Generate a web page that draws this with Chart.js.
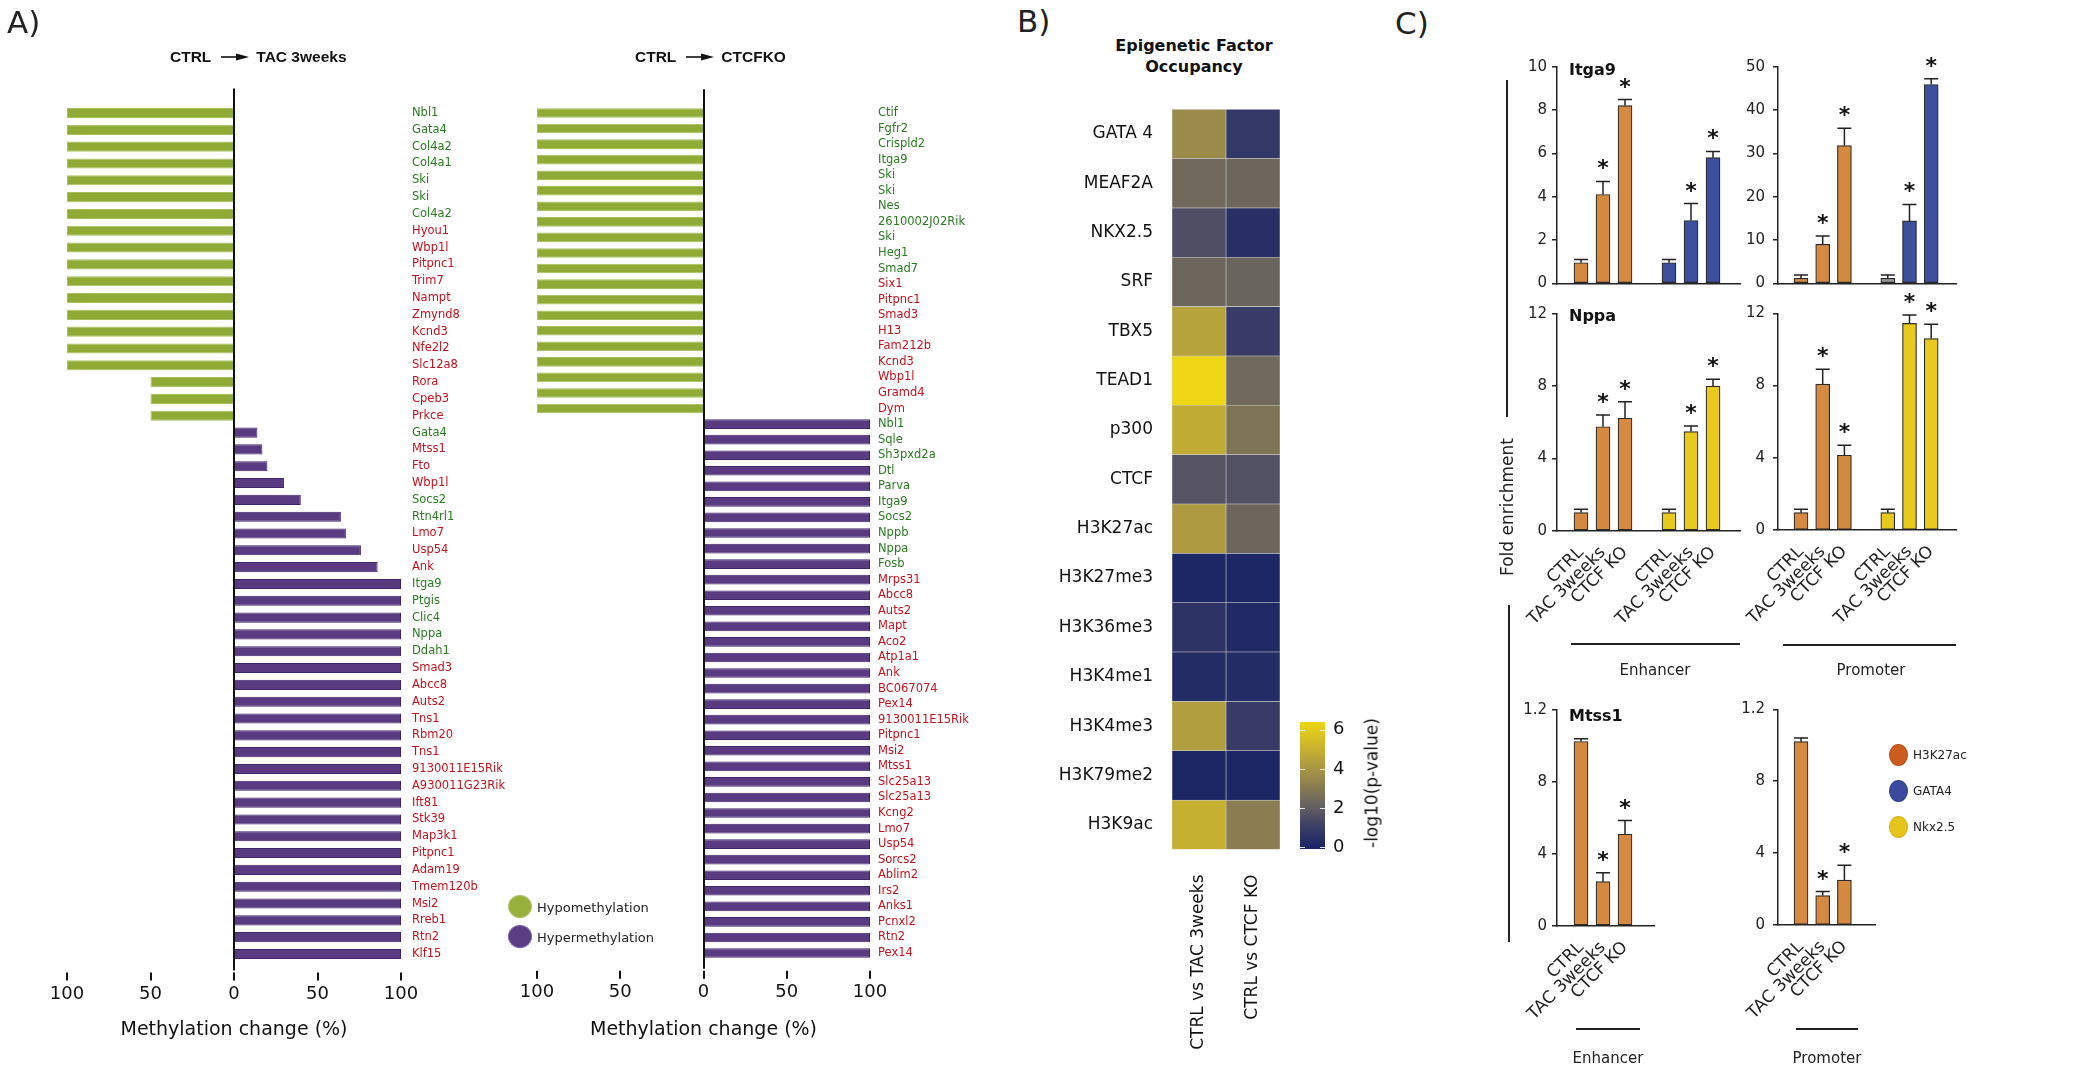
<!DOCTYPE html>
<html>
<head>
<meta charset="utf-8">
<title>Methylation change and epigenetic occupancy</title>
<script src="https://cdn.jsdelivr.net/npm/chart.js"></script>
<style>
  html, body { margin: 0; padding: 0; background: #fff; }
  body { position: relative; width: 2098px; height: 1070px; overflow: hidden; font-family: 'DejaVu Sans', Verdana, sans-serif; color: #222; }
  canvas { position: absolute; }
  .lbl { position: absolute; white-space: nowrap; line-height: 1; }
  .rule { position: absolute; background: #222; }
  .dot { position: absolute; border-radius: 50%; box-sizing: border-box; }
  .ttl { position: absolute; display: flex; align-items: center; font: bold 15.5px 'Liberation Sans', Arial, sans-serif; color: #111; white-space: nowrap; }
</style>
</head>
<body>
<script>
// ---------- A) methylation change, CTRL -> TAC 3weeks ----------
const tacGenes = ['Nbl1', 'Gata4', 'Col4a2', 'Col4a1', 'Ski', 'Ski', 'Col4a2', 'Hyou1', 'Wbp1l', 'Pitpnc1',
  'Trim7', 'Nampt', 'Zmynd8', 'Kcnd3', 'Nfe2l2', 'Slc12a8', 'Rora', 'Cpeb3', 'Prkce',
  'Gata4', 'Mtss1', 'Fto', 'Wbp1l', 'Socs2', 'Rtn4rl1', 'Lmo7', 'Usp54', 'Ank',
  'Itga9', 'Ptgis', 'Clic4', 'Nppa', 'Ddah1', 'Smad3', 'Abcc8', 'Auts2', 'Tns1', 'Rbm20', 'Tns1',
  '9130011E15Rik', 'A930011G23Rik', 'Ift81', 'Stk39', 'Map3k1', 'Pitpnc1', 'Adam19', 'Tmem120b',
  'Msi2', 'Rreb1', 'Rtn2', 'Klf15'];
const tacChange = [-100, -100, -100, -100, -100, -100, -100, -100, -100, -100,
  -100, -100, -100, -100, -100, -100, -50, -50, -50,
  14, 17, 20, 30, 40, 64, 67, 76, 86,
  100, 100, 100, 100, 100, 100, 100, 100, 100, 100, 100,
  100, 100, 100, 100, 100, 100, 100, 100,
  100, 100, 100, 100];
// g = green label, r = red label
const tacLabelGroup = ('ggggggg' + 'rrrrrrrrrrrr' + 'grrrggrrr' + 'ggggg' + 'rrrrrrrrrrrrrrrrrr').split('');

// ---------- A) methylation change, CTRL -> CTCFKO ----------
const ctcfGenes = ['Ctif', 'Fgfr2', 'Crispld2', 'Itga9', 'Ski', 'Ski', 'Nes', '2610002J02Rik', 'Ski', 'Heg1', 'Smad7',
  'Six1', 'Pitpnc1', 'Smad3', 'H13', 'Fam212b', 'Kcnd3', 'Wbp1l', 'Gramd4', 'Dym',
  'Nbl1', 'Sqle', 'Sh3pxd2a', 'Dtl', 'Parva', 'Itga9', 'Socs2', 'Nppb', 'Nppa', 'Fosb',
  'Mrps31', 'Abcc8', 'Auts2', 'Mapt', 'Aco2', 'Atp1a1', 'Ank', 'BC067074', 'Pex14', '9130011E15Rik',
  'Pitpnc1', 'Msi2', 'Mtss1', 'Slc25a13', 'Slc25a13', 'Kcng2', 'Lmo7', 'Usp54', 'Sorcs2', 'Ablim2',
  'Irs2', 'Anks1', 'Pcnxl2', 'Rtn2', 'Pex14'];
const ctcfChange = [-100, -100, -100, -100, -100, -100, -100, -100, -100, -100, -100,
  -100, -100, -100, -100, -100, -100, -100, -100, -100,
  100, 100, 100, 100, 100, 100, 100, 100, 100, 100,
  100, 100, 100, 100, 100, 100, 100, 100, 100, 100,
  100, 100, 100, 100, 100, 100, 100, 100, 100, 100,
  100, 100, 100, 100, 100];
const ctcfLabelGroup = ('ggggggggggg' + 'rrrrrrrrr' + 'gggggggggg' + 'rrrrrrrrrrrrrrrrrrrrrrrrr').split('');
const methylTicks = [-100, -50, 0, 50, 100];

// ---------- B) epigenetic factor occupancy, -log10(p-value) ----------
const factors = ['GATA 4', 'MEAF2A', 'NKX2.5', 'SRF', 'TBX5', 'TEAD1', 'p300', 'CTCF', 'H3K27ac',
  'H3K27me3', 'H3K36me3', 'H3K4me1', 'H3K4me3', 'H3K79me2', 'H3K9ac'];
const comparisons = ['CTRL vs TAC 3weeks', 'CTRL vs CTCF KO'];
const occTac = [3.6, 2.4, 1.5, 2.3, 4.5, 6.4, 4.8, 1.7, 4.2, 0.1, 0.6, 0.3, 4.3, 0.05, 5.0];
const occCtcf = [0.8, 2.3, 0.4, 2.2, 0.95, 2.4, 2.8, 1.6, 2.3, 0.1, 0.2, 0.3, 0.9, 0.05, 3.1];
const colorbarTicks = [0, 2, 4, 6];

// ---------- C) fold enrichment ----------
const conditions = ['CTRL', 'TAC 3weeks', 'CTCF KO'];
const significant = [false, true, true];
const marks = ['H3K27ac', 'GATA4', 'Nkx2.5'];

const itga9EnhTicks = [0, 2, 4, 6, 8, 10];
const itga9EnhH3k27ac = [0.95, 4.1, 8.2];
const itga9EnhH3k27acSem = [0.15, 0.6, 0.28];
const itga9EnhGata4 = [0.95, 2.9, 5.8];
const itga9EnhGata4Sem = [0.15, 0.78, 0.29];
const itga9PromTicks = [0, 10, 20, 30, 40, 50];
const itga9PromH3k27ac = [1.15, 9.0, 31.8];
const itga9PromH3k27acSem = [0.77, 1.9, 4.0];
const itga9PromGata4 = [1.15, 14.4, 45.9];
const itga9PromGata4Sem = [0.77, 3.8, 1.3];

const nppaTicks = [0, 4, 8, 12];
const nppaEnhH3k27ac = [1.0, 5.75, 6.22];
const nppaEnhH3k27acSem = [0.18, 0.65, 0.91];
const nppaEnhNkx25 = [1.0, 5.48, 8.0];
const nppaEnhNkx25Sem = [0.18, 0.31, 0.37];
const nppaPromH3k27ac = [0.96, 8.08, 4.14];
const nppaPromH3k27acSem = [0.19, 0.82, 0.56];
const nppaPromNkx25 = [0.96, 11.44, 10.6];
const nppaPromNkx25Sem = [0.19, 0.46, 0.8];

const mtss1Ticks = [0, 0.4, 0.8, 1.2];
const mtss1TickLabels = ['0', '4', '8', '1.2'];
const mtss1EnhH3k27ac = [1.025, 0.245, 0.509];
const mtss1EnhH3k27acSem = [0.015, 0.05, 0.076];
const mtss1PromH3k27ac = [1.02, 0.164, 0.25];
const mtss1PromH3k27acSem = [0.02, 0.022, 0.083];

// ---------- styles ----------
const GREEN_TXT = '#2a7b22', RED_TXT = '#c0121d';
const HYPO = '#8fab35', HYPO_EDGE = '#a8c05a';
const HYPER = '#5a3b81', HYPER_EDGE = '#3e2468';
const ORANGE = '#d48a40', BLUE = '#3e4f9e', YELLOW = '#e8c91d', GREY = '#9a9a9a';
const heatStops = [[0, [27, 37, 101]], [1, [58, 61, 102]], [2, [99, 94, 98]], [3, [133, 122, 82]],
  [4, [168, 150, 69]], [5, [198, 176, 48]], [6.4, [238, 214, 20]]];

Chart.defaults.font.family = "'DejaVu Sans', Verdana, sans-serif";
Chart.defaults.color = '#222';
Chart.defaults.animation = false;
Chart.defaults.responsive = false;
Chart.defaults.devicePixelRatio = 1;
Chart.defaults.plugins.legend.display = false;
Chart.defaults.plugins.tooltip.enabled = false;

function heatColor(v) {
  for (let i = 1; i < heatStops.length; i++) {
    const [v1, c1] = heatStops[i];
    const [v0, c0] = heatStops[i - 1];
    if (v <= v1 || i === heatStops.length - 1) {
      const t = Math.max(0, Math.min(1, (v - v0) / (v1 - v0)));
      const c = c0.map((a, k) => Math.round(a + (c1[k] - a) * t));
      return `rgb(${c[0]},${c[1]},${c[2]})`;
    }
  }
}

function makeCanvas(box) {
  const c = document.createElement('canvas');
  c.width = box.w;
  c.height = box.h;
  c.style.left = box.x + 'px';
  c.style.top = box.y + 'px';
  c.style.width = box.w + 'px';
  c.style.height = box.h + 'px';
  document.body.appendChild(c);
  return c;
}

// layout padding that puts the plot area on `area` (page coordinates)
function padFor(box, area, yW, xH, yPos) {
  return {
    left: area.l - box.x - (yPos === 'left' ? yW : 0),
    right: box.x + box.w - area.r - (yPos === 'right' ? yW : 0),
    top: area.t - box.y,
    bottom: box.y + box.h - area.b - xH
  };
}
const fixW = w => s => { s.width = w; };
const fixH = h => s => { s.height = h; };

function text(str, x, y, o = {}) {
  const d = document.createElement('div');
  d.className = 'lbl';
  d.textContent = str;
  const ax = { left: '0', center: '-50%', right: '-100%' }[o.align || 'left'];
  d.style.left = x + 'px';
  d.style.top = y + 'px';
  d.style.fontSize = (o.size || 15) + 'px';
  d.style.fontWeight = o.bold ? 'bold' : 'normal';
  d.style.color = o.color || '#222';
  d.style.transform = `translate(${ax},-50%)` + (o.rotate ? ` rotate(${o.rotate}deg)` : '');
  document.body.appendChild(d);
}
function rule(x1, y1, x2, y2, w = 1.5) {
  const d = document.createElement('div');
  d.className = 'rule';
  if (y1 === y2) {
    d.style.cssText += `left:${x1}px;top:${y1 - w / 2}px;width:${x2 - x1}px;height:${w}px`;
  } else {
    d.style.cssText += `left:${x1 - w / 2}px;top:${y1}px;width:${w}px;height:${y2 - y1}px`;
  }
  document.body.appendChild(d);
}
function dot(cx, cy, w, h, fill, edge) {
  const d = document.createElement('div');
  d.className = 'dot';
  d.style.cssText += `left:${cx - w / 2}px;top:${cy - h / 2}px;width:${w}px;height:${h}px;background:${fill};border:1.5px solid ${edge}`;
  document.body.appendChild(d);
}
function arrowTitle(x, y, left, right) {
  const d = document.createElement('div');
  d.className = 'ttl';
  d.style.left = x + 'px';
  d.style.top = (y - 9) + 'px';
  d.style.height = '18px';
  d.innerHTML = `<span>${left}</span><svg width="28" height="10" style="margin:0 7px 0 10px">` +
    `<line x1="0" y1="5" x2="19" y2="5" stroke="#111" stroke-width="1.6"/>` +
    `<polygon points="15,1.5 28,5 15,8.5" fill="#111"/></svg><span>${right}</span>`;
  document.body.appendChild(d);
}

// ---------- plugins ----------
const zeroAxis = {
  id: 'zeroAxis',
  afterDraw(chart) {
    const { ctx, chartArea: a, scales: { x } } = chart;
    const x0 = Math.round(x.getPixelForValue(0));
    ctx.save();
    ctx.strokeStyle = '#111';
    ctx.lineWidth = 2;
    ctx.beginPath();
    ctx.moveTo(x0, a.top - 16);
    ctx.lineTo(x0, a.bottom + 8);
    x.ticks.forEach(t => {
      const px = Math.round(x.getPixelForValue(t.value));
      ctx.moveTo(px, a.bottom + 10);
      ctx.lineTo(px, a.bottom + 18);
    });
    ctx.stroke();
    ctx.restore();
  }
};

const errorBars = {
  id: 'errorBars',
  afterDatasetsDraw(chart) {
    const { ctx, scales: { y } } = chart;
    ctx.save();
    ctx.strokeStyle = '#222';
    ctx.fillStyle = '#111';
    ctx.lineWidth = 1.5;
    ctx.font = "bold 22px 'DejaVu Sans'";
    ctx.textAlign = 'center';
    const m = ctx.measureText('*');
    const mid = (m.actualBoundingBoxAscent - m.actualBoundingBoxDescent) / 2;
    chart.data.datasets.forEach((ds, di) => {
      chart.getDatasetMeta(di).data.forEach((bar, i) => {
        const top = y.getPixelForValue(ds.data[i].y + ds.sem[i]);
        const half = bar.width / 2;
        ctx.beginPath();
        ctx.moveTo(bar.x, bar.y);
        ctx.lineTo(bar.x, top);
        ctx.moveTo(bar.x - half, top);
        ctx.lineTo(bar.x + half, top);
        ctx.stroke();
        if (significant[i]) ctx.fillText('*', bar.x, top - 17 + mid);
      });
    });
    ctx.restore();
  }
};

const colorbarDashes = {
  id: 'colorbarDashes',
  afterDatasetsDraw(chart) {
    const { ctx, chartArea: a, scales: { y } } = chart;
    ctx.save();
    ctx.strokeStyle = 'rgba(255,255,255,0.85)';
    ctx.lineWidth = 1;
    ctx.beginPath();
    colorbarTicks.forEach(v => {
      const py = Math.round(y.getPixelForValue(v)) + 0.5;
      ctx.moveTo(a.left, py); ctx.lineTo(a.left + 5, py);
      ctx.moveTo(a.right - 5, py); ctx.lineTo(a.right, py);
    });
    ctx.stroke();
    ctx.restore();
  }
};

// ---------- A) ----------
function methylationChart(box, area, genes, change, groups, labelPad, barFrac) {
  const yW = box.x + box.w - area.r;
  const xH = 1041.4 - area.b;
  new Chart(makeCanvas(box), {
    type: 'bar',
    data: {
      labels: genes,
      datasets: [{
        data: change,
        backgroundColor: change.map(v => v < 0 ? HYPO : HYPER),
        borderColor: change.map(v => v < 0 ? HYPO_EDGE : HYPER_EDGE),
        borderWidth: 1,
        barPercentage: barFrac,
        categoryPercentage: 1
      }]
    },
    options: {
      indexAxis: 'y',
      layout: { padding: padFor(box, area, yW, xH, 'right') },
      scales: {
        x: {
          min: methylTicks[0], max: methylTicks[methylTicks.length - 1],
          afterBuildTicks: s => { s.ticks = methylTicks.map(v => ({ value: v })); },
          ticks: { callback: v => Math.abs(v), font: { size: 18 }, color: '#111', padding: 21 },
          grid: { display: false, drawTicks: false },
          border: { display: false },
          title: { display: true, text: 'Methylation change (%)', font: { size: 19 }, color: '#111', padding: 0 },
          afterFit: fixH(xH)
        },
        y: {
          position: 'right',
          grid: { display: false, drawTicks: false },
          border: { display: false },
          ticks: {
            autoSkip: false, padding: labelPad, font: { size: 11.5 },
            color: c => groups[c.index] === 'g' ? GREEN_TXT : RED_TXT
          },
          afterFit: fixW(yW)
        }
      }
    },
    plugins: [zeroAxis]
  });
}

methylationChart({ x: 0, y: 0, w: 520, h: 1070 }, { l: 67, r: 401, t: 104.6, b: 962.4 },
  tacGenes, tacChange, tacLabelGroup, 11, 0.6);
methylationChart({ x: 470, y: 0, w: 530, h: 1070 }, { l: 537, r: 870, t: 105.2, b: 960.8 },
  ctcfGenes, ctcfChange, ctcfLabelGroup, 8, 0.62);

text('A)', 7, 21.5, { size: 31 });
arrowTitle(170, 57, 'CTRL', 'TAC 3weeks');
arrowTitle(635, 57, 'CTRL', 'CTCFKO');
dot(520, 906.5, 24, 23, '#98b03c', '#b4c76e');
dot(520, 936.5, 24, 23, '#5b3d84', '#7a63a3');
text('Hypomethylation', 537, 907, { size: 13 });
text('Hypermethylation', 537, 937, { size: 13 });

// ---------- B) ----------
(function () {
  const box = { x: 1000, y: 80, w: 320, h: 990 };
  const area = { l: 1172, r: 1280, t: 107, b: 849.5 };
  const yW = 150, xH = 216;
  new Chart(makeCanvas(box), {
    type: 'bar',
    data: {
      labels: factors,
      // one stacked cell per comparison; the cell colour carries the value
      datasets: [occTac, occCtcf].map(vals => ({
        data: vals.map(() => 1),
        backgroundColor: vals.map(heatColor),
        borderColor: 'rgba(205,205,205,0.9)',
        borderWidth: 0.6,
        borderSkipped: false,
        barPercentage: 1,
        categoryPercentage: 1
      }))
    },
    options: {
      indexAxis: 'y',
      layout: { padding: padFor(box, area, yW, xH, 'left') },
      scales: {
        x: {
          type: 'linear', stacked: true, min: 0, max: comparisons.length,
          afterBuildTicks: s => { s.ticks = comparisons.map((_, i) => ({ value: i + 0.5 })); },
          ticks: {
            callback: (v, i) => comparisons[i], autoSkip: false, minRotation: 90, maxRotation: 90,
            padding: 25, font: { size: 17 }, color: '#111'
          },
          grid: { display: false, drawTicks: false },
          border: { display: false },
          afterFit: fixH(xH)
        },
        y: {
          stacked: true,
          grid: { display: false, drawTicks: false },
          border: { display: false },
          ticks: { padding: 19, font: { size: 17 }, color: '#111' },
          afterFit: fixW(yW)
        }
      }
    }
  });

  const cbBox = { x: 1280, y: 690, w: 130, h: 190 };
  const cbArea = { l: 1300, r: 1325, t: 722, b: 849 };
  const cbMin = -0.1, cbMax = heatStops[heatStops.length - 1][0];
  new Chart(makeCanvas(cbBox), {
    type: 'bar',
    data: {
      labels: [''],
      datasets: [{
        data: [[cbMin, cbMax]],
        backgroundColor: c => {
          const ch = c.chart;
          if (!ch.chartArea) return heatColor(0);
          const y = ch.scales.y;
          const g = ch.ctx.createLinearGradient(0, y.getPixelForValue(0), 0, y.getPixelForValue(cbMax));
          heatStops.forEach(([v, col]) => g.addColorStop(v / cbMax, `rgb(${col.join(',')})`));
          return g;
        },
        borderWidth: 0,
        barPercentage: 1,
        categoryPercentage: 1
      }]
    },
    options: {
      layout: { padding: padFor(cbBox, cbArea, 85, 0, 'right') },
      scales: {
        x: { display: false },
        y: {
          position: 'right', min: cbMin, max: cbMax,
          afterBuildTicks: s => { s.ticks = colorbarTicks.map(v => ({ value: v })); },
          ticks: { padding: 8, font: { size: 18 }, color: '#111' },
          grid: { display: false, drawTicks: false },
          border: { display: false },
          afterFit: fixW(85)
        }
      }
    },
    plugins: [colorbarDashes]
  });
})();

text('B)', 1017, 20.5, { size: 31 });
text('Epigenetic Factor', 1194, 46, { size: 16, bold: true, align: 'center', color: '#111' });
text('Occupancy', 1194, 67, { size: 16, bold: true, align: 'center', color: '#111' });
text('-log10(p-value)', 1372, 783, { size: 17, align: 'center', rotate: -90, color: '#111' });

// ---------- C) ----------
function enrichmentChart(o) {
  const xMin = 1 - o.lead / o.pitch;
  const xMax = xMin + (o.area.r - o.area.l) / o.pitch;
  const slots = [];
  const datasets = o.series.map((s, gi) => {
    const xs = s.values.map((v, i) => 1 + i + gi * 4);
    slots.push(...xs);
    return {
      data: s.values.map((v, i) => ({ x: xs[i], y: v })),
      sem: s.sem,
      backgroundColor: s.fill,
      borderColor: '#2b2b2b',
      borderWidth: 1.2,
      borderSkipped: false,
      barThickness: 14,
      grouped: false
    };
  });
  const yW = 60, xH = o.labels ? 110 : 10;
  new Chart(makeCanvas(o.box), {
    type: 'bar',
    data: { datasets },
    options: {
      layout: { padding: padFor(o.box, o.area, yW, xH, 'left') },
      scales: {
        x: {
          type: 'linear', min: xMin, max: xMax, offset: false,
          afterBuildTicks: s => { s.ticks = slots.map(v => ({ value: v })); },
          ticks: {
            display: o.labels, autoSkip: false, minRotation: 45, maxRotation: 45, padding: 12,
            font: { size: 17 }, color: '#222', callback: (v, i) => conditions[i % conditions.length]
          },
          grid: { display: false, drawTicks: false, offset: false },
          border: { display: true, color: '#222', width: 1.5 },
          afterFit: fixH(xH)
        },
        y: {
          min: 0, max: o.ticks[o.ticks.length - 1],
          afterBuildTicks: s => { s.ticks = o.ticks.map(v => ({ value: v })); },
          ticks: {
            padding: o.tickPad, font: { size: 15 }, color: '#222',
            callback: (v, i) => o.tickLabels ? o.tickLabels[i] : v
          },
          grid: { display: true, drawOnChartArea: false, drawTicks: true, tickLength: 5, color: '#222', lineWidth: 1.5 },
          border: { display: true, color: '#222', width: 1.5 },
          afterFit: fixW(yW)
        }
      }
    },
    plugins: [errorBars]
  });
}

const ENH = { lead: 24, pitch: 22, tickPad: 5 };
const PROM = { lead: 23, pitch: 21.7, tickPad: 8 };

enrichmentChart(Object.assign({}, ENH, {
  box: { x: 1470, y: 20, w: 300, h: 300 }, area: { l: 1557, r: 1740, t: 66.7, b: 283.3 },
  ticks: itga9EnhTicks, labels: false,
  series: [{ values: itga9EnhH3k27ac, sem: itga9EnhH3k27acSem, fill: ORANGE },
           { values: itga9EnhGata4, sem: itga9EnhGata4Sem, fill: BLUE }]
}));
enrichmentChart(Object.assign({}, PROM, {
  box: { x: 1690, y: 20, w: 400, h: 300 }, area: { l: 1778, r: 1956, t: 66.7, b: 283.3 },
  ticks: itga9PromTicks, labels: false,
  series: [{ values: itga9PromH3k27ac, sem: itga9PromH3k27acSem, fill: ORANGE },
           { values: itga9PromGata4, sem: itga9PromGata4Sem, fill: [GREY, BLUE, BLUE] }]
}));
enrichmentChart(Object.assign({}, ENH, {
  box: { x: 1470, y: 270, w: 300, h: 400 }, area: { l: 1557, r: 1740, t: 313.7, b: 530.7 },
  ticks: nppaTicks, labels: true,
  series: [{ values: nppaEnhH3k27ac, sem: nppaEnhH3k27acSem, fill: ORANGE },
           { values: nppaEnhNkx25, sem: nppaEnhNkx25Sem, fill: YELLOW }]
}));
enrichmentChart(Object.assign({}, PROM, {
  box: { x: 1690, y: 270, w: 400, h: 400 }, area: { l: 1778, r: 1956, t: 313.3, b: 530 },
  ticks: nppaTicks, labels: true,
  series: [{ values: nppaPromH3k27ac, sem: nppaPromH3k27acSem, fill: ORANGE },
           { values: nppaPromNkx25, sem: nppaPromNkx25Sem, fill: YELLOW }]
}));
enrichmentChart(Object.assign({}, ENH, {
  box: { x: 1470, y: 660, w: 210, h: 410 }, area: { l: 1557, r: 1654, t: 710, b: 925.7 },
  ticks: mtss1Ticks, tickLabels: mtss1TickLabels, labels: true,
  series: [{ values: mtss1EnhH3k27ac, sem: mtss1EnhH3k27acSem, fill: ORANGE }]
}));
enrichmentChart(Object.assign({}, PROM, {
  box: { x: 1690, y: 660, w: 210, h: 410 }, area: { l: 1778, r: 1875, t: 709.3, b: 925 },
  ticks: mtss1Ticks, tickLabels: mtss1TickLabels, labels: true,
  series: [{ values: mtss1PromH3k27ac, sem: mtss1PromH3k27acSem, fill: ORANGE }]
}));

text('C)', 1395, 23, { size: 31 });
text('Itga9', 1569, 70, { size: 16, bold: true, color: '#111' });
text('Nppa', 1569, 316, { size: 16, bold: true, color: '#111' });
text('Mtss1', 1569, 716, { size: 16, bold: true, color: '#111' });
text('Fold enrichment', 1507, 507, { size: 17, align: 'center', rotate: -90 });
rule(1507, 80, 1507, 417);
rule(1509, 605, 1509, 942);
rule(1571, 644, 1740, 644);
rule(1783, 645, 1956, 645);
text('Enhancer', 1655, 670, { size: 15, align: 'center' });
text('Promoter', 1871, 670, { size: 15, align: 'center' });
rule(1576, 1029, 1640, 1029);
rule(1796, 1029, 1858, 1029);
text('Enhancer', 1608, 1058, { size: 15, align: 'center' });
text('Promoter', 1827, 1058, { size: 15, align: 'center' });

const markColors = ['#cd5d1e', '#3b4a9e', '#e5c41c'];
const markEdges = ['#b8501a', '#2f3d88', '#d4b215'];
[755, 790.5, 826.5].forEach((cy, i) => {
  dot(1898, cy, 19, 22, markColors[i], markEdges[i]);
  text(marks[i], 1913, cy, { size: 12 });
});
</script>
</body>
</html>
